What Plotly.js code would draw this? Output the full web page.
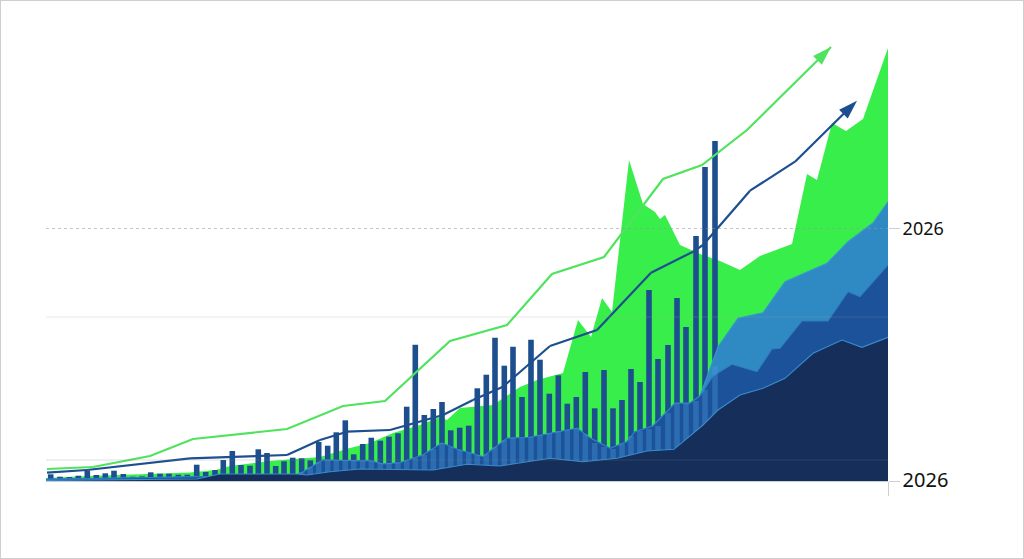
<!DOCTYPE html>
<html>
<head>
<meta charset="utf-8">
<script src="https://cdn.plot.ly/plotly-3.0.1.min.js"></script>
<style>
html,body{margin:0;padding:0;background:#fff;overflow:hidden}
#chart{width:1024px;height:559px}
#frame{position:absolute;left:0;top:0;width:1024px;height:559px;box-sizing:border-box;border:1px solid #cfcfcf;z-index:100;pointer-events:none}
</style>
</head>
<body>
<div id="chart"></div>
<div id="frame"></div>
<script>
var barX = [50.7,60,69.3,78.3,87.3,96.3,105.3,114,123.3,132.7,142,150.7,160,169,178.3,187.3,196.7,205.7,215,223.3,232.3,241,250,258.3,267,275.7,284,292.7,301.7,310.3,318.7,327.7,336.3,345.3,353.7,362.7,371.3,380.3,389,398,406.7,415.3,424.3,433.3,442,450.7,459.7,468.7,477.3,486.3,495,504.3,513,522,531,540,549.3,558.3,567.3,576.3,585.3,594.7,604,613,622,631,640,649,658,668,677,686,696,705,715];
var barValues = [6.7,4.3,4,5.3,10.3,6,7.7,10.3,7,4.3,4.7,8.7,7.3,7.3,6.3,6.3,16.3,9,11,21,30,16,15.3,31.7,28,15,19.7,23.3,22.7,20.7,39,35.3,48.7,60.7,26.7,37,43.3,40.3,44.3,47.7,74.3,136.3,66,72,79,50.7,53.3,55.3,92.7,106.3,143.3,115.3,134.3,84,141.3,121.3,87.3,105.7,77.3,84,109,72.7,111,72.7,81,112,99,191,122,136,183,154,245,314,340];
var barInBlue = [0,0,0,0,0,0,0,0,0,0,0,0,0,0,0,0,0,0,0,0,0,0,0,0,0,0,0,0,9,14,19,21,21,21,21,20,20,18,18,18,20,23,26,32,38,34,31,28,26,27,34,41,43,43,44,46,48,50,51,53,47,38,34,32,37,45,50,52,55,68,78,78,80,91,115];

var greenX = [46,87,147,190,216,230,270,320,350,370,393,420,440,447,460,493,520,537,563,578,591,602,612,629,643,655,660,665,680,700,720,740,760,792,807,817,832,846,863,888];
var greenY = [3,5,7,8.5,11,15,20,24,33,38,48,56,64,61,73,76,94,101,108,161,144,183,169,321,277,269,262,266,236,227,220,211,225,237,307,301,358,350,362,433];

var lightX = [46,297,303,323,363,370,383,400,423,442,457,483,507,530,577,590,610,627,635,653,675,690,700,718,738,763,785,827,848,873,888];
var lightY = [1.7,6,9,21,20,20.3,17,18.3,26,38,31.7,24.3,42.7,43.7,52.7,43,32.7,39.3,49.3,55,77.7,77.7,85,134.3,162.7,168.3,199.3,217.7,239.3,258,279.3];

var midX = [46,297,303,323,363,370,383,400,423,442,457,483,507,530,577,590,610,627,635,653,675,690,700,713,732,757,772,780,802,828,848,860,888];
var midY = [1.7,6,9,21,20,20.3,17,18.3,26,38,31.7,24.3,42.7,43.7,52.7,43,32.7,39.3,49.3,55,77.7,77.7,85,105,116.7,109.3,132,132.7,160,160,189.3,184.3,216];

var navyX = [46,197,220,297,307,330,360,433,467,500,550,583,617,647,674,703,718,740,763,785,813,842,862,888];
var navyY = [0.6,2,7,7,6,9.3,12,11,16.7,15,22.7,19.3,22.7,30,31.7,56,71,86,92.7,102.7,127.7,141,133.7,143.7];

var greenLineX = [47,93,150,193,287,343,385,450,507,552,604,663,702,747,831];
var greenLineY = [12,14,25,42,52,75,80,140,156,207,224,302,316,351,434];

var navyLineX = [47,87,190,287,320,347,390,443,473,503,550,597,651,693,703,750,795,857];
var navyLineY = [8.3,11,22.7,26,41,49.3,51,66,81,94.3,135,151,208.3,229.3,236,290.3,319.3,380.3];

var tickVals = [252.5, 0];
var tickLabels = ['2026', '<span style="font-size:20px">2026</span>'];
var dashedLevels = [252.5];
var solidLevels = [164, 21];

function arrowSizes(xs, size){ return xs.map(function(_, i){ return i === xs.length - 1 ? size : 0; }); }
function area(x, y, color, outline, ax){
  return {type:'scatter', mode:'lines', x:x, y:y, fill:'tozeroy', fillcolor:color,
    line:{color:outline, width:outline === color ? 0 : 1.1}, xaxis:'x'+ax, yaxis:'y'+ax, hoverinfo:'skip'};
}
function arrowLine(x, y, color, width, size){
  return {type:'scatter', mode:'lines+markers', x:x, y:y, line:{color:color, width:width},
    marker:{symbol:'arrow', angleref:'previous', size:arrowSizes(x, size), color:color, opacity:1, line:{width:0}},
    xaxis:'x3', yaxis:'y3', hoverinfo:'skip'};
}

var traces = [
  area(greenX, greenY, '#38ee4a', '#38ee4a', ''),
  {type:'bar', x:barX, y:barValues, width:5.6, marker:{color:'#1d4f8f', line:{width:0}}, xaxis:'x2', yaxis:'y2', hoverinfo:'skip'},
  area(lightX, lightY, '#2f8ac4', '#3b94cf', '2'),
  area(midX, midY, '#1b5299', '#2f7cc2', '2'),
  {type:'bar', x:barX, y:barInBlue, width:5.6, marker:{color:'rgba(70,150,215,0.4)', line:{width:0}}, xaxis:'x3', yaxis:'y3', hoverinfo:'skip'},
  area(navyX, navyY, '#162f5a', '#3b8ccb', '3'),
  arrowLine(greenLineX, greenLineY, '#4fe35e', 2.2, 20),
  arrowLine(navyLineX, navyLineY, '#1d4f8f', 2.2, 20)
];
traces[0].xaxis = 'x'; traces[0].yaxis = 'y';

function hline(level, dash, color){
  return {type:'line', xref:'x', yref:'y', x0:46, x1:888, y0:level, y1:level, layer:'above', line:{color:color, width:1, dash:dash}};
}
var shapes = dashedLevels.map(function(l){ return hline(l, '3px,3px', 'rgba(150,150,150,0.55)'); })
  .concat([hline(solidLevels[0], 'solid', 'rgba(150,160,150,0.25)'), hline(solidLevels[1], 'solid', 'rgba(120,130,140,0.25)')]);

var hidden = function(over){ return {overlaying:over, range:over==='x'?[46,888]:[0,461], fixedrange:true, visible:false}; };

var layout = {
  width:1024, height:559, showlegend:false,
  paper_bgcolor:'#ffffff', plot_bgcolor:'#ffffff',
  margin:{l:46, r:136, t:20, b:78, pad:0},
  font:{family:'"Noto Sans", sans-serif', color:'#111111', size:18},
  shapes:shapes,
  xaxis:{range:[46,888], fixedrange:true, showgrid:false, zeroline:false, showline:true, linecolor:'#c8ccd4', linewidth:1,
    tickmode:'array', tickvals:[888], ticktext:[''], ticks:'outside', ticklen:14, tickcolor:'#cfcfcf', tickwidth:1},
  yaxis:{range:[0,461], fixedrange:true, side:'right', showgrid:false, zeroline:false, showline:false,
    tickmode:'array', tickvals:tickVals, ticktext:tickLabels, ticks:'outside', ticklen:11, tickcolor:'#cfcfcf', tickwidth:1,
    ticklabelstandoff:-1,
    tickfont:{size:18, color:'#111111', family:'"Noto Sans", sans-serif'}},
  xaxis2:hidden('x'), yaxis2:hidden('y'), xaxis3:hidden('x'), yaxis3:hidden('y')
};
Plotly.newPlot('chart', traces, layout, {displayModeBar:false, staticPlot:true});
</script>
</body>
</html>
